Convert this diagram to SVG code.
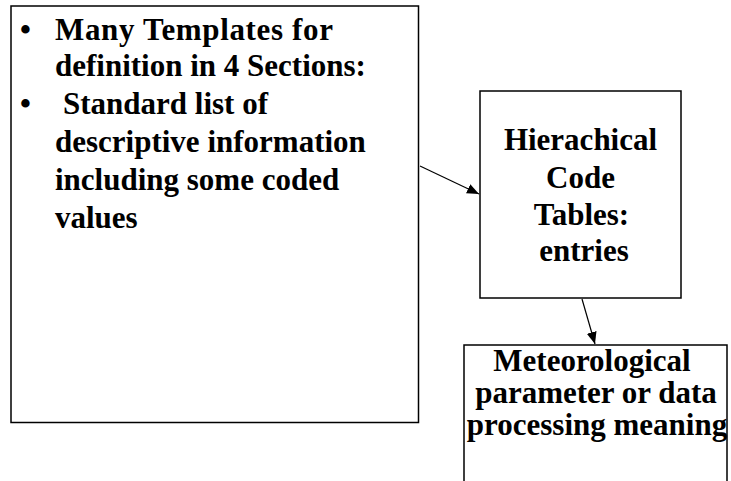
<svg xmlns="http://www.w3.org/2000/svg" width="731" height="481" viewBox="0 0 731 481">
  <defs>
    <marker id="arrow" viewBox="0 0 12 10" refX="12" refY="5" markerWidth="12" markerHeight="10" markerUnits="userSpaceOnUse" orient="auto">
      <path d="M0,0 L12,5 L0,10 Z" fill="#000"/>
    </marker>
  </defs>
  <style>
    .box { fill: #fff; stroke: #000; stroke-width: 1.5; }
    .t { font-family: "Liberation Serif", "Times New Roman", serif; font-weight: bold; font-size: 31px; fill: #000; }
    .c { text-anchor: middle; }
    .edge { stroke: #000; stroke-width: 1.2; fill: none; marker-end: url(#arrow); }
  </style>
  <rect width="731" height="481" fill="#fff"/>

  <g id="templates">
    <rect class="box" x="11" y="6" width="407.5" height="416.5"/>
    <text class="t" x="20" y="40">•</text>
    <text class="t" x="55" y="40" textLength="278">Many Templates for</text>
    <text class="t" x="55" y="76">definition in 4 Sections:</text>
    <text class="t" x="20" y="114">•</text>
    <text class="t" x="63" y="114">Standard list of</text>
    <text class="t" x="55" y="152">descriptive information</text>
    <text class="t" x="55" y="190">including some coded</text>
    <text class="t" x="55" y="228">values</text>
  </g>

  <g id="code-tables">
    <rect class="box" x="480" y="91" width="201" height="207"/>
    <text class="t c" x="580.5" y="150">Hierachical</text>
    <text class="t c" x="580.5" y="188">Code</text>
    <text class="t c" x="581.5" y="225">Tables:</text>
    <text class="t c" x="584" y="261">entries</text>
  </g>

  <g id="meaning">
    <path class="box" d="M464,482 L464,345 L727,345 L727,482"/>
    <text class="t c" x="592" y="371">Meteorological</text>
    <text class="t c" x="596" y="403">parameter or data</text>
    <text class="t c" x="597" y="435">processing meaning</text>
  </g>

  <g id="connectors">
    <line class="edge" x1="420" y1="166" x2="479" y2="194"/>
    <line class="edge" x1="582" y1="299" x2="595" y2="344"/>
  </g>
</svg>
